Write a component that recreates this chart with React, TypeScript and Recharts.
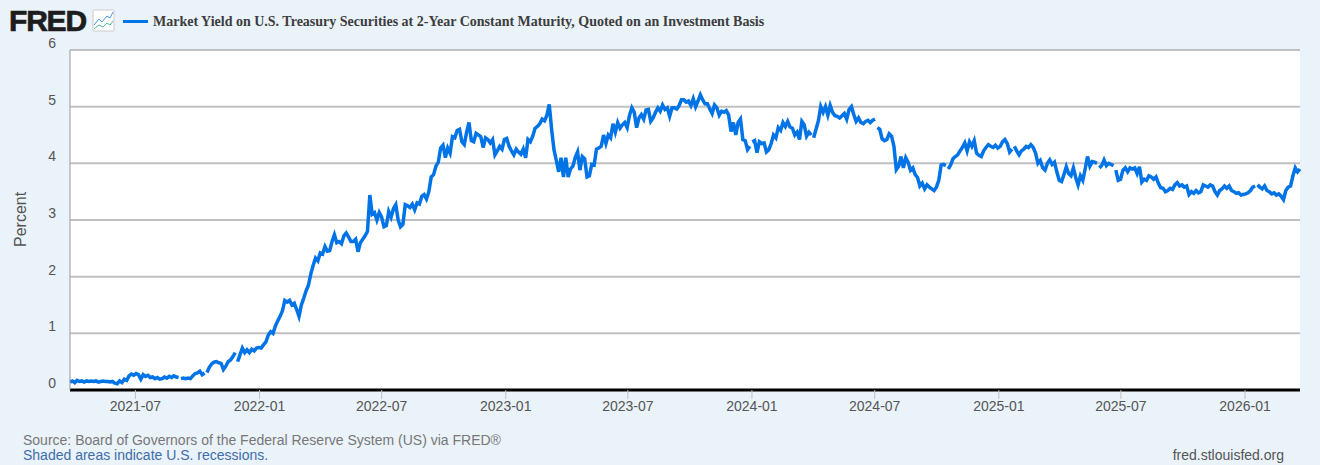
import { LineChart, Line, XAxis, YAxis, CartesianGrid } from "recharts";

const SERIES_NAME =
  "Market Yield on U.S. Treasury Securities at 2-Year Constant Maturity, Quoted on an Investment Basis";

const START_DAY = Date.UTC(2021, 2, 26);
const STEP_DAYS = 3.5;

const tickMonths = [
  "2021-07", "2022-01", "2022-07", "2023-01", "2023-07",
  "2024-01", "2024-07", "2025-01", "2025-07", "2026-01",
];
const percentTicks = [0, 1, 2, 3, 4, 5, 6];

// two readings per week, null marks a break in the line between two readings
const yields: (number | null)[] = [
  .14, .16, .13, .17, .15, .16, .14, .16, .15, .16,
  .15, .16, .14, .15, .16, .15, .15, .14, .15, .12,
  .11, .16, .13, .19, .17, .25, .28, .26, .29, .27,
  .19, .27, .24, .26, .22, .23, .20, .22, .19, .20,
  .23, .21, .24, .22, .25, .23, .22, null, .20, .21, .20,
  .21, .20, .25, .29, .30, .33, .27, .30, null, .31, .40,
  .46, .49, .50, .48, .47, .36, .42, .50, .53, .59,
  .66, null, .50, .62, .74, .66, .71, .66, .72, .69, .74,
  .75, .74, .80, .85, .97, 1.03, 1.00, 1.13, 1.22, 1.30,
  1.40, 1.58, 1.55, 1.58, 1.50, 1.53, 1.42, 1.30, 1.50, 1.62,
  1.75, 1.85, 2.05, 2.20, 2.33, 2.28, 2.42, 2.40, 2.53, 2.45,
  2.46, 2.62, 2.74, 2.60, 2.62, 2.58, 2.72, 2.77, 2.70, 2.62,
  2.62, 2.66, 2.44, 2.60, 2.66, 2.72, 2.80, 3.44, 3.10, 3.13,
  3.00, 3.13, 3.05, 2.88, 2.90, 3.15, 3.05, 3.20, 3.27, 3.00,
  2.88, 2.92, 3.27, 3.25, 3.22, 3.28, 3.18, 3.30, 3.28, 3.42,
  3.45, 3.37, 3.50, 3.76, 3.80, 3.95, 4.02, 4.27, 4.32, 4.10,
  4.27, 4.18, 4.47, 4.45, 4.58, 4.60, 4.38, 4.33, 4.55, 4.72,
  4.40, 4.38, 4.53, 4.50, 4.47, 4.28, 4.45, 4.42, 4.36, 4.42,
  4.15, 4.22, 4.30, 4.25, 4.42, 4.44, 4.30, 4.22, 4.15, 4.25,
  4.20, 4.16, 4.25, 4.10, 4.42, 4.38, 4.48, 4.62, 4.65, 4.70,
  4.78, 4.75, 4.85, 5.04, 4.60, 4.24, 4.05, 3.85, 4.10, 3.76,
  4.10, 3.76, 3.90, 3.95, 4.10, 4.20, 3.88, 4.12, 4.08, 3.76,
  3.78, 3.98, 3.97, 4.25, 4.27, 4.30, 4.50, 4.35, 4.50, 4.45,
  4.70, 4.55, 4.72, 4.62, 4.68, 4.72, 4.63, 4.85, 4.98, 4.90,
  4.63, 4.80, 4.86, 4.78, 4.94, 4.95, 4.74, 4.80, 4.90, 4.98,
  4.92, 5.03, 4.95, 4.98, 4.83, 4.98, 4.98, 4.96, 5.02, 5.12,
  5.12, 5.08, 5.10, 5.02, 5.14, 5.00, 5.10, 5.21, 5.12, 5.05,
  5.05, 4.96, 4.88, 5.03, 4.98, 4.85, 4.92, 4.90, 4.93, 4.85,
  4.56, 4.72, 4.50, 4.72, 4.78, 4.42, 4.40, 4.24, 4.30, null, 4.38,
  4.40, 4.19, 4.38, 4.35, 4.36, 4.20, 4.24, 4.35, 4.50, 4.45,
  4.63, 4.58, 4.72, 4.65, 4.74, 4.64, 4.62, 4.50, 4.55, 4.42,
  4.74, 4.68, 4.48, 4.55, 4.50, null, 4.45, 4.60, 4.75, 5.00, 4.90,
  5.00, 4.85, 5.02, 4.90, 4.84, 4.83, 4.80, 4.84, 4.88, 4.78,
  4.95, 5.00, 4.86, 4.74, 4.80, 4.72, 4.70, 4.74, 4.76, 4.72,
  4.76, 4.78, null, 4.63, 4.60, 4.43, 4.40, 4.42, 4.52, 4.48, 4.30,
  3.89, 3.95, 4.12, 3.92, 4.10, 4.02, 3.88, 3.92, 3.80, 3.75,
  3.60, 3.65, 3.55, 3.62, 3.58, 3.55, 3.52, 3.58, 3.70, 3.97,
  3.98, 3.96, null, 3.90, 3.97, 4.08, 4.12, 4.15, 4.22, 4.28, 4.36,
  4.22, 4.38, 4.30, 4.40, 4.18, 4.14, 4.12, 4.22, 4.28, 4.33,
  4.30, 4.28, 4.32, 4.27, 4.30, 4.38, 4.42, 4.35, 4.20, 4.25, null,
  4.30, 4.22, 4.15, 4.22, 4.25, 4.30, 4.28, 4.33, 4.28, 4.18,
  4.00, 4.05, 3.92, 3.88, 4.00, 4.06, 3.98, 4.02, 3.85, 3.70,
  3.68, 3.80, 3.94, 3.82, 3.78, 3.92, 3.75, 3.62, 3.78, 3.70,
  3.90, 4.12, 3.95, 4.03, 4.02, 4.00, null, 3.92, 3.96, 4.06, 3.96,
  4.00, 3.98, 3.96, null, 3.88, 3.70, 3.72, 3.88, 3.92, 3.85, 3.92,
  3.90, 3.92, 3.82, 3.94, 3.67, 3.72, 3.70, 3.78, 3.76, 3.72,
  3.76, 3.65, 3.57, 3.56, 3.50, 3.52, 3.56, 3.54, 3.62, 3.66,
  3.60, 3.62, 3.58, 3.60, 3.45, 3.50, 3.47, 3.52, 3.48, 3.50,
  3.62, 3.60, 3.58, 3.62, 3.60, 3.50, 3.44, 3.52, 3.55, 3.60,
  3.56, 3.60, 3.52, 3.50, 3.47, 3.48, 3.44, 3.45, 3.46, 3.48,
  3.52, 3.58, 3.60, null, 3.62, 3.58, 3.55, 3.60, 3.52, 3.50, 3.46,
  3.48, 3.44, 3.46, 3.42, 3.36, 3.52, 3.58, 3.60, 3.78, 3.92,
  3.85, 3.90,
];

const DAY_MS = 86400000;
const monthToTime = (m: string) => Date.UTC(+m.slice(0, 4), +m.slice(5) - 1, 1);
const timeToMonth = (t: number) => new Date(t).toISOString().slice(0, 7);

// breaks take no slot of their own, they sit half a step after the reading before them
let readingCount = 0;
const chartData = yields.map((value) => {
  if (value === null) {
    return { time: START_DAY + (readingCount - 0.5) * STEP_DAYS * DAY_MS, value };
  }
  readingCount += 1;
  return { time: START_DAY + (readingCount - 1) * STEP_DAYS * DAY_MS, value };
});

const SANS = "'Liberation Sans', Arial, sans-serif";
const LINE_BLUE = "#0073e6";

// FRED puts the y labels above their gridlines
const PercentTick = ({ x, y, payload }: any) => (
  <text x={x - 6} y={y - 2} textAnchor="end" fontSize={14} fontFamily={SANS} fill="#555">
    {payload.value}
  </text>
);

const FredIcon = () => (
  <svg width={24} height={23} style={{ position: "absolute", left: 92, top: 9 }}>
    <rect x={1} y={1} width={21} height={21} rx={1} fill="#fff" stroke="#ccc" />
    <polyline points="2,16 7,10 10,13 15,7 18,9 21,3" fill="none" stroke="#4a90e2" strokeWidth={1} />
    <polyline points="2,20 7,16 11,18 15,14 18,16 21,12" fill="none" stroke="#4fb89a" strokeWidth={1} />
  </svg>
);

export default function App() {
  return (
    <div style={{ position: "absolute", left: 0, top: 0, width: 1320, height: 465, background: "#eaf2fa", overflow: "hidden" }}>
      <div style={{ position: "absolute", left: 9, top: 8, fontFamily: SANS, fontWeight: 700, fontSize: 30, lineHeight: "26px", letterSpacing: -1.2, color: "#1d1d1d", WebkitTextStroke: "0.7px #1d1d1d" }}>
        FRED
      </div>
      <FredIcon />
      <div style={{ position: "absolute", left: 123, top: 20, width: 25, height: 3, background: LINE_BLUE }} />
      <div style={{ position: "absolute", left: 153, top: 13, fontFamily: "'Liberation Serif', serif", fontWeight: 700, fontSize: 14, lineHeight: "17px", color: "#3d3d3d", whiteSpace: "nowrap" }}>
        {SERIES_NAME}
      </div>

      <LineChart
        width={1320}
        height={465}
        data={chartData}
        margin={{ top: 50, right: 20, bottom: 0, left: 10 }}
        style={{ position: "absolute", left: 0, top: 0 }}
      >
        <CartesianGrid vertical={false} stroke="#c0c0c0" strokeWidth={2} fill="#fff" />
        <XAxis
          dataKey="time"
          type="number"
          scale="time"
          domain={[chartData[0].time, chartData[chartData.length - 1].time]}
          ticks={tickMonths.map(monthToTime)}
          tickFormatter={timeToMonth}
          height={75}
          axisLine={{ stroke: "#000", strokeWidth: 3 }}
          tickLine={{ stroke: "#c0c0c0" }}
          tickSize={9}
          tick={{ fontSize: 14, fontFamily: SANS, fill: "#555" }}
        />
        <YAxis
          domain={[0, 6]}
          ticks={percentTicks}
          width={60}
          axisLine={{ stroke: "#999" }}
          tickLine={false}
          tick={<PercentTick />}
          label={{ value: "Percent", angle: -90, position: "insideLeft", offset: 0, dx: 10, dy: 27, fontSize: 16, fontFamily: SANS, fill: "#555" }}
        />
        <Line
          dataKey="value"
          type="linear"
          stroke={LINE_BLUE}
          strokeWidth={3.5}
          dot={false}
          connectNulls={false}
          isAnimationActive={false}
        />
      </LineChart>

      <div style={{ position: "absolute", left: 23, top: 433, fontFamily: SANS, fontSize: 14, lineHeight: "15px", color: "#777", whiteSpace: "nowrap" }}>
        Source: Board of Governors of the Federal Reserve System (US) via FRED®
        <br />
        <span style={{ color: "#3e6da8" }}>Shaded areas indicate U.S. recessions.</span>
      </div>
      <div style={{ position: "absolute", right: 36, top: 448, fontFamily: SANS, fontSize: 14, lineHeight: "15px", color: "#555" }}>
        fred.stlouisfed.org
      </div>
    </div>
  );
}
